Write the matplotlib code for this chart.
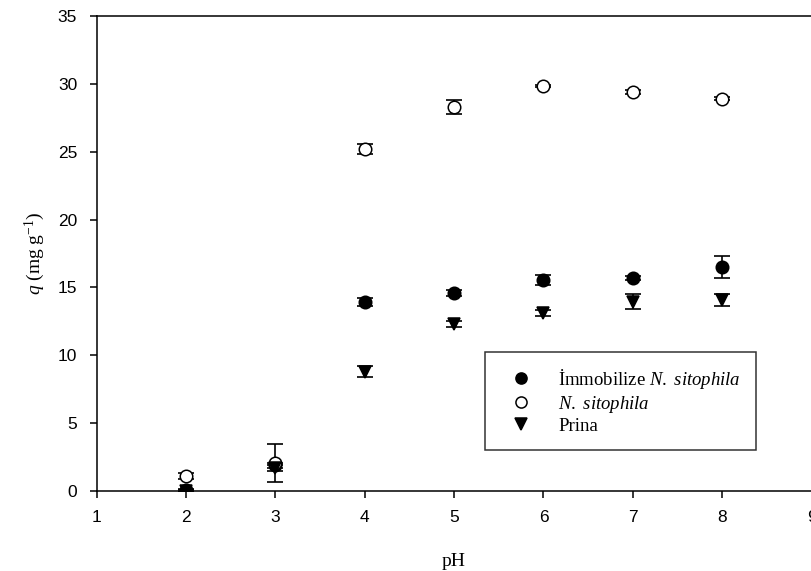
import numpy as np
import matplotlib
matplotlib.use("Agg")
import matplotlib.pyplot as plt

plt.rcParams['mathtext.fontset'] = 'custom'
plt.rcParams['mathtext.rm'] = 'Liberation Serif'
plt.rcParams['mathtext.it'] = 'Liberation Serif:italic'

# pH values
ph = [2, 3, 4, 5, 6, 7, 8]

# q (mg/g) and error for each sorbent
immob = [0.05, 1.9, 13.9, 14.6, 15.55, 15.7, 16.5]
immob_err = [0.1, 0.2, 0.3, 0.2, 0.35, 0.15, 0.8]

free = [1.1, 2.1, 25.2, 28.3, 29.85, 29.4, 28.9]
free_err = [0.2, 1.4, 0.4, 0.5, 0.1, 0.15, 0.1]

prina = [0.0, 1.7, 8.8, 12.3, 13.1, 13.95, 14.1]
prina_err = [0.1, 0.2, 0.4, 0.2, 0.2, 0.55, 0.45]

labels = ["İmmobilize $\\mathit{N.}$ $\\mathit{sitophila}$",
          "$\\mathit{N.}$ $\\mathit{sitophila}$",
          "Prina"]

fig = plt.figure(figsize=(8.11, 5.71), dpi=100)
ax = fig.add_axes([0.1192, 0.1401, 0.8815, 0.8319])

series = [
    (immob, immob_err, dict(marker='o', mfc='black', mec='black')),
    (free, free_err, dict(marker='o', mfc='white', mec='black')),
    (prina, prina_err, dict(marker='v', mfc='black', mec='black')),
]

handles = []
for (vals, errs, style), lab in zip(series, labels):
    ax.errorbar(ph, vals, yerr=errs, fmt='none', ecolor='black',
                elinewidth=1.2, capsize=5.5, capthick=1.2, zorder=2)
    h, = ax.plot(ph, vals, linestyle='none', markersize=9, mew=1.1,
                 zorder=3, label=lab, **style)
    handles.append(h)

ax.set_xlim(1, 9)
ax.set_ylim(0, 35)
ax.set_xticks(range(1, 10))
ax.set_yticks(range(0, 36, 5))

for s in ax.spines.values():
    s.set_linewidth(1.1)
ax.tick_params(direction='out', length=5, width=1.1, labelsize=12.5, pad=9)
for t in ax.get_xticklabels() + ax.get_yticklabels():
    t.set_fontfamily('Liberation Sans')

ax.set_xlabel("pH", fontfamily='Liberation Serif', fontsize=14, labelpad=20)
ax.set_ylabel("$q$ (mg g$^{-1}$)", fontfamily='Liberation Serif',
              fontsize=14, labelpad=8)

leg = ax.legend(handles=handles, loc='upper left',
                bbox_to_anchor=(485 / 811, 1 - 352 / 571),
                bbox_transform=fig.transFigure, borderaxespad=0,
                frameon=True, fancybox=False, edgecolor='black',
                numpoints=1, handlelength=2.2, handletextpad=0.9,
                borderpad=0.8, labelspacing=0.15,
                prop={'family': 'Liberation Serif', 'size': 13.5})
leg.get_frame().set_linewidth(1.1)
for h in leg.legend_handles:
    h.set_markersize(8)

fig.savefig("out.png", dpi=100)
